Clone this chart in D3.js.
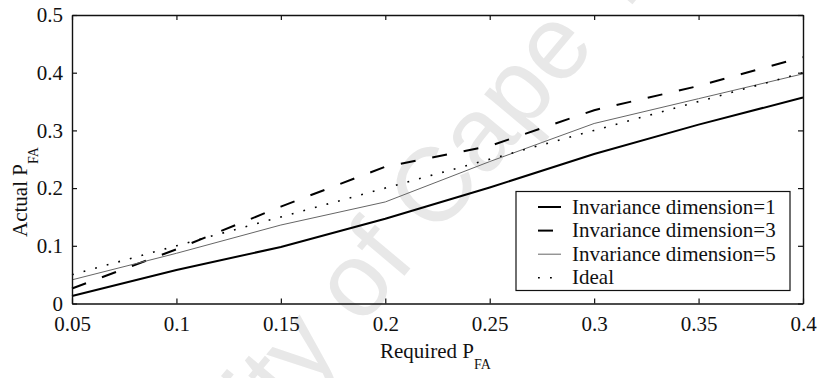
<!DOCTYPE html>
<html>
<head>
<meta charset="utf-8">
<script src="https://cdn.jsdelivr.net/npm/d3@7"></script>
<style>
  html, body { margin: 0; padding: 0; background: #fff; }
  svg { display: block; }
  text { font-family: "Liberation Serif", "Times New Roman", serif; fill: #111; }
</style>
</head>
<body>
<svg id="chart" width="820" height="378"></svg>
<script>
// Required vs. actual false-alarm probability
const required = [0.05, 0.10, 0.15, 0.20, 0.25, 0.30, 0.35, 0.40];
const dim1  = [0.013, 0.058, 0.098, 0.147, 0.201, 0.259, 0.310, 0.357];
const dim3  = [0.026, 0.094, 0.168, 0.237, 0.273, 0.335, 0.377, 0.427];
const dim5  = [0.041, 0.087, 0.136, 0.176, 0.246, 0.312, 0.355, 0.398];
const ideal = [0.05, 0.10, 0.15, 0.20, 0.25, 0.30, 0.35, 0.40];

const xTicks = [0.05, 0.1, 0.15, 0.2, 0.25, 0.3, 0.35, 0.4];
const yTicks = [0, 0.1, 0.2, 0.3, 0.4, 0.5];
const legendLabels = ["Invariance dimension=1", "Invariance dimension=3", "Invariance dimension=5", "Ideal"];

const svg = d3.select("#chart");
const W = 820, H = 378;
const m = { left: 72, right: 17, top: 15, bottom: 74.5 };

const x = d3.scaleLinear().domain([0.05, 0.4]).range([m.left, W - m.right]);
const y = d3.scaleLinear().domain([0, 0.5]).range([H - m.bottom, m.top]);

// faint diagonal watermark behind the plot
svg.append("text")
  .attr("transform", "translate(46,703) rotate(-50)")
  .style("font-family", "'Liberation Sans', Arial, sans-serif")
  .style("font-size", "105px")
  .style("fill", "#e8e8e8")
  .text("University of Cape Town");

const series = [
  { name: legendLabels[0], values: dim1,  stroke: "#000", width: 2,   dash: null },
  { name: legendLabels[1], values: dim3,  stroke: "#000", width: 2,   dash: "15,17" },
  { name: legendLabels[2], values: dim5,  stroke: "#666", width: 1,   dash: null },
  { name: legendLabels[3], values: ideal, stroke: "#000", width: 1.6, dash: "1.8,10.2" }
];

const line = d3.line()
  .x((d, i) => x(required[i]))
  .y(d => y(d));

const plot = svg.append("g");
series.forEach(s => {
  plot.append("path")
    .datum(s.values)
    .attr("d", line)
    .attr("fill", "none")
    .attr("stroke", s.stroke)
    .attr("stroke-width", s.width)
    .attr("stroke-dasharray", s.dash);
});

// axes with inward ticks on all four sides
const fmt = d => String(+d.toFixed(2));
const tickLen = 5;

const gx = svg.append("g")
  .attr("transform", `translate(0,${y(0)})`)
  .call(d3.axisBottom(x).tickValues(xTicks).tickFormat(fmt)
    .tickSizeInner(-tickLen).tickSizeOuter(0).tickPadding(13));
const gy = svg.append("g")
  .attr("transform", `translate(${x(0.05)},0)`)
  .call(d3.axisLeft(y).tickValues(yTicks).tickFormat(fmt)
    .tickSizeInner(-tickLen).tickSizeOuter(0).tickPadding(9));
const gt = svg.append("g")
  .attr("transform", `translate(0,${y(0.5)})`)
  .call(d3.axisTop(x).tickValues(xTicks).tickFormat("")
    .tickSizeInner(-tickLen).tickSizeOuter(0));
const gr = svg.append("g")
  .attr("transform", `translate(${x(0.4)},0)`)
  .call(d3.axisRight(y).tickValues(yTicks).tickFormat("")
    .tickSizeInner(-tickLen).tickSizeOuter(0));

[gx, gy, gt, gr].forEach(g => {
  g.attr("font-family", null);
  g.selectAll(".domain").attr("stroke", "#111").attr("stroke-width", 1.4);
  g.selectAll(".tick line").attr("stroke", "#111").attr("stroke-width", 1.2);
  g.selectAll(".tick text")
    .style("font-family", "'Liberation Serif', 'Times New Roman', serif")
    .style("font-size", "21px")
    .attr("fill", "#111");
});

// axis titles with subscript
const xl = svg.append("text")
  .attr("x", 380).attr("y", 358)
  .style("font-size", "21px");
xl.append("tspan").text("Required P");
xl.append("tspan").attr("dy", 11).style("font-size", "14px").text("FA");

const yl = svg.append("text")
  .attr("transform", "translate(27,237) rotate(-90)")
  .style("font-size", "21px");
yl.append("tspan").text("Actual P");
yl.append("tspan").attr("dy", 11).style("font-size", "14px").text("FA");

// legend
const lg = svg.append("g");
lg.append("rect")
  .attr("x", 516).attr("y", 191.5).attr("width", 274).attr("height", 99)
  .attr("fill", "#fff").attr("stroke", "#111").attr("stroke-width", 1.2);
series.forEach((s, i) => {
  const by = 213.5 + i * 23.6;
  lg.append("line")
    .attr("x1", 538).attr("x2", 561)
    .attr("y1", by - 6.5).attr("y2", by - 6.5)
    .attr("stroke", s.stroke).attr("stroke-width", s.width)
    .attr("stroke-dasharray", s.dash);
  lg.append("text")
    .attr("x", 572).attr("y", by)
    .style("font-size", "21px")
    .text(s.name);
});
</script>
</body>
</html>
